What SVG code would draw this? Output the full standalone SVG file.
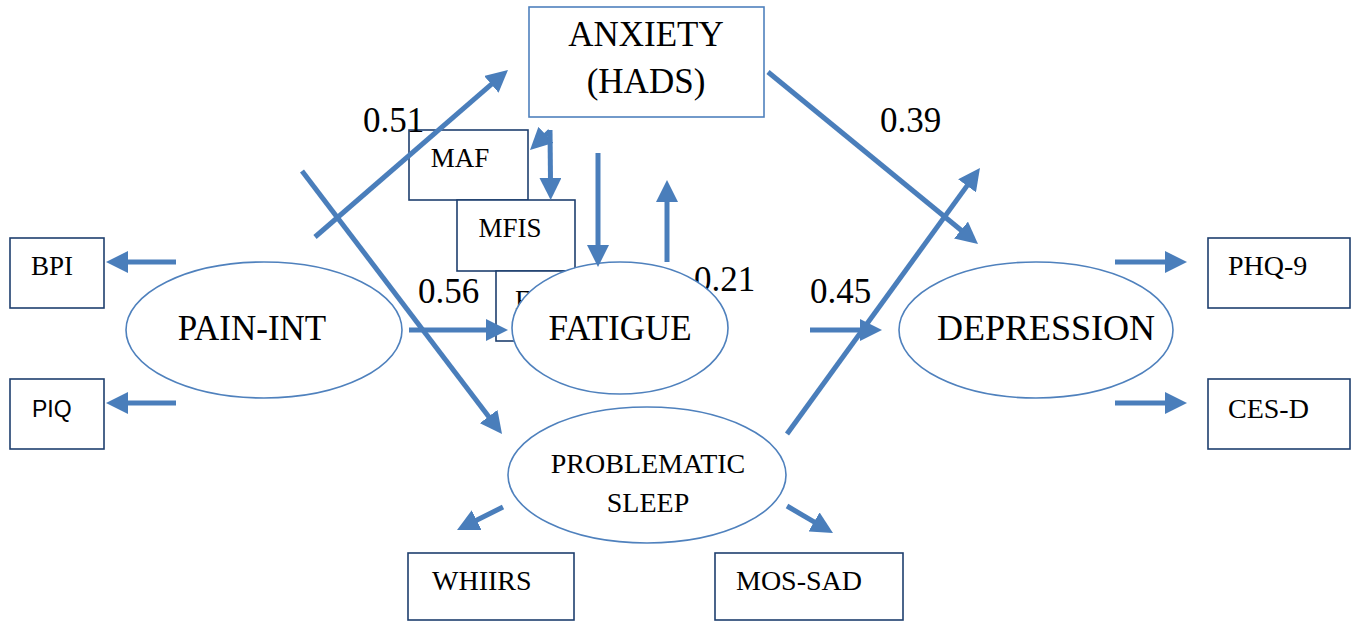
<svg xmlns="http://www.w3.org/2000/svg" width="1355" height="627" viewBox="0 0 1355 627">
<style>
.bg{fill:#ffffff}
.box{fill:#ffffff;stroke:#1f3f6e;stroke-width:1.6}
.lbox{fill:#ffffff;stroke:#4f81bd;stroke-width:1.6}
.ell{fill:#ffffff;stroke:#4f81bd;stroke-width:1.6}
.c{stroke:#4a7ebb;stroke-width:5;fill:none;marker-end:url(#ah)}
</style>
<defs>
<marker id="ah" markerUnits="userSpaceOnUse" markerWidth="22" markerHeight="22" refX="3" refY="11" orient="auto">
<path d="M0,0 L22,11 L0,22 z" fill="#4a7ebb"/>
</marker>
</defs>
<rect class="bg" x="0" y="0" width="1355" height="627"/>

<g font-family="Liberation Serif, DejaVu Serif, serif" fill="#000000">
<g id="anxiety">
<rect class="lbox" x="529" y="7" width="235" height="110"/>
<text font-size="35" x="646" y="46" text-anchor="middle">ANXIETY</text>
<text font-size="35" x="646" y="93" text-anchor="middle">(HADS)</text>
</g>

<g id="maf">
<rect class="box" x="409" y="130" width="119" height="70"/>
<text font-size="27" x="460" y="167" text-anchor="middle">MAF</text>
</g>
<g id="mfis">
<rect class="box" x="457" y="200" width="118" height="71"/>
<text font-size="27" x="510" y="237" text-anchor="middle">MFIS</text>
</g>
<g id="fss">
<rect class="box" x="496" y="271" width="118" height="70"/>
<text font-size="27" x="515" y="309">FSS</text>
</g>
<text id="label-021" font-size="35" x="694" y="291">0.21</text>

<g id="fatigue">
<ellipse class="ell" cx="620" cy="328" rx="108" ry="66"/>
<text font-size="35" x="620" y="340" text-anchor="middle">FATIGUE</text>
</g>

<g id="pain-int">
<ellipse class="ell" cx="264" cy="330" rx="138" ry="68"/>
<text font-size="35" x="252" y="340" text-anchor="middle">PAIN-INT</text>
</g>

<g id="depression">
<ellipse class="ell" cx="1036" cy="330" rx="137" ry="68"/>
<text font-size="36" x="1046" y="340" text-anchor="middle">DEPRESSION</text>
</g>

<g id="sleep">
<ellipse class="ell" cx="647" cy="475" rx="139" ry="68"/>
<text font-size="28" x="648" y="473" text-anchor="middle">PROBLEMATIC</text>
<text font-size="28" x="648" y="512" text-anchor="middle">SLEEP</text>
</g>

<g id="bpi">
<rect class="box" x="10" y="238" width="94" height="70"/>
<text font-size="27" x="31" y="275">BPI</text>
</g>
<g id="piq">
<rect class="box" x="10" y="379" width="94" height="70"/>
<text font-family="Liberation Sans, Arial, sans-serif" font-size="23" x="32" y="417">PIQ</text>
</g>
<g id="phq9">
<rect class="box" x="1208" y="238" width="142" height="70"/>
<text font-size="28" x="1228" y="275">PHQ-9</text>
</g>
<g id="cesd">
<rect class="box" x="1208" y="379" width="142" height="70"/>
<text font-size="28" x="1228" y="418">CES-D</text>
</g>
<g id="whiirs">
<rect class="box" x="408" y="553" width="166" height="67"/>
<text font-size="28" x="432" y="590">WHIIRS</text>
</g>
<g id="mos-sad">
<rect class="box" x="715" y="553" width="188" height="67"/>
<text font-size="28" x="736" y="590">MOS-SAD</text>
</g>

<g id="connectors">
<line class="c" x1="176" y1="262" x2="125" y2="262"/>
<line class="c" x1="176" y1="403" x2="125" y2="403"/>
<line class="c" x1="1115" y1="262" x2="1168" y2="262"/>
<line class="c" x1="1115" y1="403" x2="1168" y2="403"/>
<line class="c" x1="503" y1="507" x2="474" y2="521.5"/>
<line class="c" x1="787" y1="506" x2="816.6" y2="523.4"/>
<line class="c" x1="302" y1="171" x2="490.5" y2="418.9"/>
<line class="c" x1="315" y1="237" x2="493.6" y2="82.4"/>
<line class="c" x1="409" y1="330" x2="489" y2="330"/>
<line class="c" x1="550" y1="131" x2="543.8" y2="136.9"/>
<line class="c" x1="550" y1="130" x2="550.5" y2="181"/>
<line class="c" x1="598" y1="153" x2="598" y2="248"/>
<line class="c" x1="667" y1="262" x2="667" y2="199"/>
<line class="c" x1="768" y1="72" x2="963.3" y2="232"/>
<line class="c" x1="787" y1="434" x2="968.8" y2="183.4"/>
<line class="c" x1="810" y1="330" x2="863" y2="330"/>
</g>

<g id="labels">
<text font-size="35" x="363" y="132">0.51</text>
<text font-size="35" x="418" y="303">0.56</text>
<text font-size="35" x="880" y="132">0.39</text>
<text font-size="35" x="810" y="303">0.45</text>
</g>
</g>
</svg>
